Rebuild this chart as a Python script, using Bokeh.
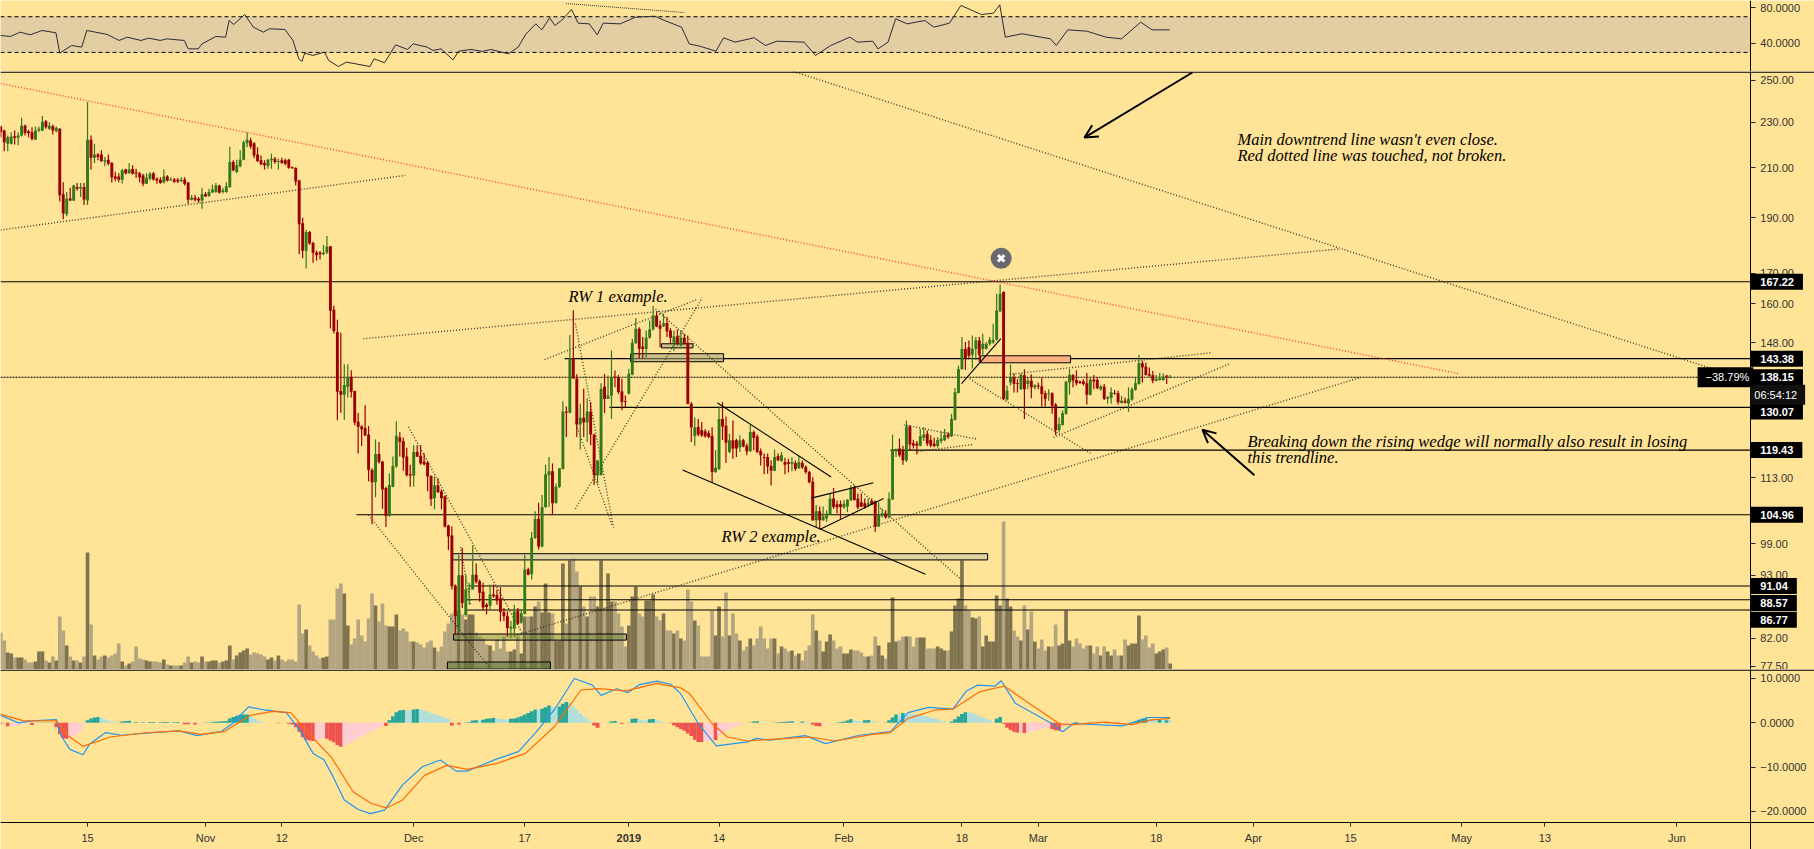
from bokeh.embed import file_html
from bokeh.resources import INLINE
from bokeh.plotting import figure
from bokeh.layouts import column
from bokeh.models import Range1d, FixedTicker, PrintfTickFormatter, Label, Arrow, OpenHead, ColumnDataSource, LinearAxis, LogAxis, LinearScale
from bokeh.core.properties import value
import pandas as pd

# 12-hour candles: (open, high, low, close)
oct_2018 = [(228.0,228.4,223.2,225.4),(226.2,226.5,217.0,221.0),(220.3,224.0,217.0,223.2),(220.3,225.4,220.0,223.5),(223.6,226.2,220.0,222.9),
(222.9,225.4,219.6,224.0),(224.0,232.0,223.5,228.4),(228.4,228.9,224.0,225.1),(225.9,226.5,223.2,225.0),(225.4,227.7,221.7,222.4),
(222.1,228.0,222.0,226.2),(226.2,228.0,225.4,227.0),(226.2,232.9,225.9,230.2),(230.4,231.0,227.0,227.7),(227.0,230.0,226.5,228.4),
(228.1,228.9,224.4,226.2),(225.9,228.0,225.4,227.4),(227.0,227.2,196.3,198.7),(199.1,204.0,189.4,191.6),(191.3,200.0,190.6,197.4),
(197.5,201.7,196.5,196.7),(196.7,203.0,196.5,202.7),(202.0,203.7,200.5,201.3),(201.4,203.7,198.0,202.0),(202.0,203.7,194.9,197.1),
(196.7,239.4,194.9,222.1),(222.1,224.0,209.2,214.2),(214.2,220.3,212.0,215.6),(215.6,216.2,213.1,214.5),(215.6,217.4,212.4,212.8),
(212.5,214.5,210.6,213.1),(213.4,215.6,211.0,211.7),(212.0,212.4,203.9,206.0),(206.3,208.3,204.4,205.4),(206.3,207.7,204.0,205.0),
(205.0,209.5,203.5,208.9),(209.2,209.5,207.2,207.7),(207.7,212.0,207.5,209.2),(209.4,211.0,207.2,207.5),(208.0,209.5,205.7,207.5),
(207.7,208.2,204.0,206.0),(206.7,207.5,202.4,203.4),(203.4,207.7,203.4,205.8),(205.4,208.2,204.7,207.5),(207.6,208.2,204.7,205.1),
(205.4,206.0,203.4,204.7),(205.0,206.0,203.4,203.7),(204.0,209.2,203.5,206.3),(206.3,206.8,204.3,204.7),(204.7,206.0,204.6,205.1),
(205.1,205.7,203.7,204.2),(205.0,205.7,203.7,204.3),(204.4,206.0,204.0,205.0),(205.1,206.0,202.7,203.4),(203.9,204.0,195.4,197.0),
(197.0,198.8,196.7,197.8),(197.8,198.8,196.3,197.0),(197.4,198.0,195.8,196.7),(196.7,201.7,193.5,199.1)]
nov_2018 = [(199.1,200.0,198.0,198.3),(198.4,201.3,198.0,200.0),(199.8,203.0,199.7,201.0),(200.0,203.7,199.7,202.7),(202.7,203.0,199.4,199.7),
(200.0,201.7,199.4,200.7),(200.0,204.0,199.7,202.3),(202.0,219.0,201.7,212.4),(212.4,213.1,208.5,208.9),(208.2,213.4,207.7,211.0),
(210.6,217.4,210.2,213.4),(213.4,221.7,213.1,221.0),(220.5,225.4,218.8,222.0),(221.7,222.9,218.1,219.1),(220.5,221.0,214.0,215.2),
(215.6,218.8,212.4,212.8),(213.1,215.2,211.0,211.4),(212.0,213.1,209.2,211.0),(210.7,213.8,209.5,213.4),(213.1,215.9,209.5,213.8),
(213.8,214.5,211.7,212.4),(212.4,213.8,209.2,212.8),(213.1,214.2,211.7,212.0),(213.1,213.8,211.0,211.7),(213.4,213.8,209.5,210.0),
(210.2,210.5,209.5,209.8),(209.9,210.2,202.7,204.3),(204.7,205.0,176.6,187.6),(187.9,190.0,175.2,177.9),(177.9,185.4,171.7,184.7),
(184.7,185.0,180.0,180.5),(180.7,181.1,173.7,177.2),(177.3,177.9,174.4,176.3),(177.3,177.8,174.8,176.6),(176.6,179.9,176.3,177.2),
(177.2,183.2,176.7,179.3),(179.5,179.5,152.3,157.8),(158.1,159.4,150.8,151.5),(151.2,155.0,126.8,134.2),(134.4,151.0,128.7,133.4),
(133.4,141.8,126.9,136.0),(135.5,141.8,132.7,138.0),(138.2,140.1,132.7,134.2),(134.4,134.5,125.5,126.2),(126.4,128.6,118.6,125.1),
(125.2,125.5,120.4,124.5),(124.8,130.6,122.8,123.0),(123.2,125.3,112.2,114.8),(114.8,115.2,103.0,112.0),(112.0,122.0,108.7,118.5),
(118.5,121.4,116.3,116.6),(116.7,116.9,106.2,110.4),(110.7,111.0,102.4,104.7),(104.7,114.0,104.5,111.4),(111.0,117.9,110.9,115.7),
(115.6,126.5,115.3,122.9),(122.5,123.8,117.9,121.4),(121.6,122.5,114.6,117.7),(117.9,120.0,113.3,113.6),(113.8,116.0,111.0,113.5)]
dec_2018 = [(113.5,120.6,111.0,119.0),(119.0,120.6,117.8,117.9),(118.1,120.6,116.0,116.3),(116.7,118.7,115.8,116.1),(116.5,116.9,110.0,113.3),
(113.4,113.6,106.8,108.3),(108.5,113.3,106.1,111.3),(111.3,112.9,109.6,109.8),(110.0,110.4,106.1,108.5),(108.9,109.1,102.3,102.5),
(102.7,102.9,97.8,100.5),(100.7,102.5,90.4,91.0),(91.1,91.3,82.6,85.7),(83.7,96.9,82.9,93.0),(93.0,98.2,87.1,88.0),
(85.9,93.1,85.6,90.4),(90.4,91.6,87.7,90.6),(90.4,98.7,90.4,93.1),(93.1,95.2,91.5,91.8),(91.9,92.2,88.2,89.8),
(90.0,91.6,86.7,87.2),(87.7,88.0,86.0,87.3),(87.5,91.3,86.7,89.5),(89.5,91.3,88.9,89.2),(89.4,90.4,87.7,88.4),
(88.8,90.8,84.8,86.4),(86.4,87.1,84.9,85.7),(85.7,86.5,82.3,83.7),(83.6,84.9,82.1,83.9),(83.6,87.7,82.3,86.5),
(86.6,87.1,84.2,84.4),(84.6,86.8,84.4,86.2),(86.1,96.9,86.0,94.1),(94.1,94.4,93.0,93.1),(93.2,101.4,92.2,100.2),
(100.2,105.7,100.0,104.1),(104.1,107.5,97.9,98.5),(98.5,109.2,98.3,106.6),(106.6,116.0,106.4,113.8),(113.6,117.8,106.6,114.5),
(114.5,116.3,105.0,107.4),(107.4,111.7,107.4,111.0),(111.0,115.2,110.7,115.2),(115.0,131.7,114.9,129.0),(129.0,130.4,122.6,128.7),
(128.7,150.3,128.5,143.4),(143.4,157.9,137.8,137.8),(137.8,139.0,122.6,125.7),(125.7,131.0,119.6,127.4),(127.4,135.0,122.6,126.2),
(126.2,132.4,121.4,129.0),(129.0,131.5,120.6,123.2),(123.2,123.4,111.4,113.6),(113.6,117.0,111.8,117.0),(113.6,136.5,113.5,135.0),
(135.6,139.1,128.6,132.3),(132.3,138.6,132.3,133.2),(133.2,145.7,127.1,138.1),(138.3,140.0,135.4,138.1),(138.1,138.8,133.6,134.1),
(134.3,137.7,129.3,131.5),(131.7,133.2,130.2,131.5)]
jan_2019 = [(133.7,140.5,133.5,139.1),(138.9,149.1,138.7,148.0),(147.9,155.5,147.7,152.2),(152.2,152.7,143.5,146.2),(146.9,149.7,143.5,146.2),
(146.2,151.7,143.7,149.5),(149.5,154.7,149.2,152.0),(152.0,159.4,151.7,156.3),(156.3,157.6,152.7,152.9),(153.2,154.7,146.7,152.2),
(153.0,156.8,152.7,153.9),(154.0,155.8,149.7,151.4),(151.7,152.4,147.7,149.5),(148.0,151.7,145.5,149.9),(149.9,151.9,147.2,147.7),
(147.2,151.7,146.9,149.5),(149.5,150.7,147.5,147.7),(148.0,150.2,130.9,131.0),(131.0,131.5,121.4,125.0),(122.8,127.5,120.5,125.0),
(125.1,127.1,122.8,123.2),(124.3,126.3,122.6,123.0),(124.0,124.6,122.4,122.8),(123.6,124.2,122.3,122.6),(122.9,125.0,112.0,114.3),
(114.3,119.4,114.1,115.3),(115.0,130.3,114.8,127.1),(127.1,131.5,121.9,125.2),(125.4,127.7,116.4,121.2),(119.0,123.4,118.7,121.8),
(121.8,126.7,117.4,119.8),(121.8,122.2,117.8,119.8),(120.1,123.0,119.0,121.8),(121.8,122.2,120.1,120.3),(120.5,121.0,118.2,119.1),
(119.2,125.6,119.0,123.8),(123.8,124.2,119.4,122.4),(122.7,123.2,118.7,119.0),(119.2,119.8,115.8,118.2),(117.8,118.6,113.8,117.6),
(117.8,118.6,113.9,115.6),(115.7,117.0,111.3,114.6),(114.6,119.6,114.5,117.8),(118.0,118.7,116.8,117.0),(116.9,119.0,116.6,118.2),
(116.6,117.6,113.8,116.0),(116.6,117.4,114.2,116.2),(116.2,117.8,114.5,116.6),(116.4,117.0,114.6,115.0),(115.2,118.0,115.0,116.6),
(116.4,117.0,115.0,115.4),(115.5,115.8,113.9,114.3),(114.3,114.6,111.8,112.0),(112.1,113.1,103.7,103.8),(103.8,107.0,102.4,105.7),
(105.7,106.7,102.1,103.8),(103.8,106.7,103.7,104.6),(104.2,105.9,103.5,105.2),(105.0,109.5,104.9,108.4),(108.4,110.7,106.2,106.6),
(107.2,108.0,105.2,106.5),(107.2,108.0,104.1,106.6)]
feb_2019 = [(106.5,108.1,106.2,107.3),(106.7,108.3,105.5,108.1),(108.0,111.3,107.9,110.8),(110.8,111.3,108.0,108.1),(108.4,109.5,106.1,106.5),
(107.6,109.5,106.6,106.7),(107.4,108.4,106.2,106.6),(107.0,108.4,106.6,107.4),(107.9,108.4,107.0,107.2),(107.8,108.0,101.4,102.5),
(102.5,107.6,102.4,104.9),(104.7,106.2,104.4,105.3),(105.2,105.9,104.2,104.4),(104.4,109.8,104.2,108.4),(108.2,123.2,108.1,119.4),
(119.1,119.8,117.8,119.6),(119.8,122.2,117.8,118.2),(119.4,120.5,116.0,117.0),(117.0,126.7,116.6,125.2),(125.2,125.6,119.4,120.8),
(121.1,121.9,119.8,120.5),(121.0,121.6,118.4,120.5),(120.5,124.6,120.3,122.8),(122.4,125.0,121.6,123.2),(123.4,124.2,120.4,121.0),
(121.9,123.0,120.1,120.5),(121.0,122.4,120.1,120.4),(120.4,122.6,120.0,121.9),(121.6,124.0,121.0,122.2),(121.8,124.6,121.6,123.1),
(123.2,123.8,122.2,122.6),(122.8,128.4,122.6,127.1),(126.9,135.2,126.7,134.1),(133.9,141.4,133.7,140.4),(140.4,149.7,140.2,146.2),
(146.2,148.2,140.2,143.5),(146.7,148.7,143.2,144.2),(144.5,150.2,140.6,146.2),(146.2,149.7,143.0,148.7),(148.7,149.7,142.4,144.5),
(146.2,150.7,144.2,147.7),(146.2,148.2,146.0,147.7),(147.7,149.7,147.2,148.9),(148.1,153.7,147.7,148.9),(148.9,163.2,148.7,157.8),
(157.6,166.3,157.3,163.2),(163.8,164.0,132.0,132.3),(132.1,135.9,131.8,134.5),(136.7,141.7,135.9,138.1),(138.1,139.2,134.0,136.3),
(136.5,137.6,134.0,136.3),(134.9,139.2,134.7,138.9),(138.7,140.4,127.1,134.9),(136.3,138.1,134.9,137.2),(137.2,139.0,132.5,135.4),
(135.4,136.3,134.9,135.9)]
mar_2019 = [(135.9,136.7,134.9,135.6),(135.7,138.1,130.4,133.6),(133.8,134.5,130.3,132.3),(133.6,134.9,131.8,133.8),(133.8,134.1,128.4,130.5),
(130.8,131.2,123.0,124.3),(124.3,127.5,123.7,125.8),(125.6,129.3,125.4,128.6),(128.4,137.2,128.2,136.9),(136.7,140.4,133.4,138.8),
(138.8,139.0,135.4,137.2),(137.4,140.1,135.9,136.5),(137.0,137.2,136.3,136.6),(137.0,137.6,135.9,136.3),(136.5,139.3,130.8,133.4),
(133.4,138.1,133.2,137.5),(137.5,138.8,134.9,137.0),(137.4,138.1,134.9,135.2),(134.9,136.1,134.5,135.6),(135.6,136.3,132.0,132.3),
(132.3,133.1,131.0,132.7),(132.5,135.4,131.0,134.1),(133.8,134.7,133.4,133.6),(133.8,134.5,130.8,131.4),(131.2,133.1,131.1,131.8),
(131.8,132.7,131.1,131.3),(131.1,135.4,128.9,132.3),(132.1,135.4,131.8,134.9),(134.7,138.1,134.5,136.5),(136.3,144.5,136.1,142.1),
(142.1,142.8,136.7,140.9),(141.1,142.3,138.6,138.8),(139.0,140.9,138.3,138.6),(138.7,139.9,136.5,137.2),(137.2,138.8,137.0,137.7),
(137.4,139.3,137.2,137.9),(137.4,139.2,137.2,138.3),(138.6,138.8,136.3,138.3),(138.0,138.8,137.9,138.15)]

volumes = [37,29,17,16,12,12,12,10,7,7,8,18,18,9,7,13,9,53,39,24,13,9,9,7,13,117,45,14,10,13,14,12,14,16,26,8,4,6,8,23,11,10,9,8,8,8,7,10,5,4,4,4,4,7,13,7,8,7,13,8,
8,9,9,7,8,9,24,10,14,17,19,21,15,17,16,15,13,10,12,9,14,10,8,10,10,8,65,36,40,24,18,14,11,12,13,50,50,81,86,76,44,25,31,50,34,28,51,76,64,48,66,44,43,43,55,39,41,38,28,
28,27,25,22,27,29,22,18,23,38,46,56,59,59,55,50,55,55,37,33,31,25,24,19,30,21,33,18,18,20,33,16,53,53,53,63,68,57,86,57,56,29,29,106,46,109,111,98,83,63,53,73,73,63,109,
62,96,68,68,56,43,23,44,73,83,56,53,69,69,75,53,49,56,39,39,36,39,31,29,80,68,49,44,13,13,13,59,34,63,33,77,34,56,36,29,19,23,31,24,31,43,31,21,31,31,16,23,21,18,19,14,16,9,19,24,55,39,29,18,28,35,29,21,23,
16,16,20,19,19,17,13,13,14,33,24,14,11,27,72,28,29,33,33,33,23,32,32,32,21,21,21,23,21,19,19,38,64,71,109,64,59,52,51,53,23,34,28,28,74,64,148,71,63,39,33,29,64,40,58,28,
21,30,19,23,23,45,24,26,59,29,23,31,26,21,24,24,16,23,14,23,18,14,20,14,14,30,24,26,26,54,30,34,22,26,16,18,20,22,6]

rsi_bars = [.9,3.8,6.6,9.5,12.9,16.9,18,21.4,24.3,25.8,31.7,35.1,37.4,41.4,43.6,47,48.8,53.9,55,57.9,59,63,65.8,66.8,68.1,71.3,73.8,76.7,78.4,82.9,85.2,86.9,87.8,88.6,90.9,94.3,95.5,98.3,100.6,107.4,108.6,111.6,114.8,118.2,119.9,123.9,125.6,127.9,131.3,133,136.5,139.9,142.2,147.3,150.1,152.4,155.2,156.9,159.2,160.7,162.6,165.5,167.4,170.6,172.9,174.6,179.5,183.9,189.5,192.8,197.2,199.4,202.7,207.1,209.3,212.6,218.1,221.4,224.7,232.5,235.8,240.2,245.7,247.9,252.3,253.8,256.7,258.9,262.2,267.3,269.9,274.4,277.7,281,283.6,287.1,288.9,290.5,295.3,303.5,305.2,308.5,314,319.5,324,329.5,332.8,337.9]
rsi_vals = [49,47.9,52.7,49.7,54.6,52,29.2,37.8,35.9,54.6,50.1,43.4,47.1,43.4,46,43.4,45.2,43.4,34,34,39.6,47.9,47.1,65.8,61.3,72.5,58.3,52.7,56.5,55.7,43.4,22.8,19.9,29.2,26.6,30.3,21,14.2,19.1,14.2,22.8,18.4,38.5,33.3,39.6,35.9,32.2,34,21.7,31.4,33.3,31.1,33.3,28.4,35.9,50.9,62,55.3,68.8,60.2,65.8,78.1,62.8,62,49.7,62.8,62,69.5,70.6,65,58.3,39.6,36.7,31.4,46.4,41.5,46.4,37.8,42.6,41.5,26.6,37.8,47.1,41.5,42.6,34,41.5,67.7,62,65.8,58.3,62.8,82.6,77,72.5,74,83.3,47.1,50.9,45.2,37.8,55.3,53.8,47.1,45.2,63.9,55.3,55.3]

macd_bars = [.9,6.1,9.9,17,18.3,20.9,24.7,26.7,31.2,35.7,44.7,52.4,57.6,64.6,67.8,72.4,76.9,83.3,87.2,91,94.2,96.8,100,103.9,107.5,111.6,116.8,122.5,127.7,132.2,135.4,143.8,150.2,155.4,160.5,166.3,171.5,174,178.5,181.7,185,190.1,194,196.9,202,207.2,216.2,218.8,222.6,232.9,238.7,248.4,257.4,262.5,268.4,275.4,279.3,282.5,287.6,289.3,293.4,303.8,307,310.2,324.3,329.5,331.4,338]
macd_vals = [1.7,0,.45,.75,-2.8,-6,-7.2,-4.7,-2.2,-2.8,-2.2,-1.8,-2.9,-1.9,-.15,3.6,2.9,2.3,-1.7,-6.9,-8.4,-12.2,-17.4,-19.5,-20.5,-19.7,-14,-9.9,-8.4,-10.9,-10.9,-8.2,-6.5,-2,2.9,10,8.5,6.2,7.7,6.8,8.6,9.4,8.7,6.6,-.15,-5.2,-4.3,-3.5,-3.9,-2.9,-4.7,-2.8,-2,2.3,3.5,3.1,7.2,8.5,8.3,9.5,4.4,-.15,-2,-.15,-.7,.6,1.2,1.2]
signal_bars = [.9,7.4,17,20.2,24.7,32.5,42.1,52.4,58.8,65.3,73,79.4,84.6,89.7,96.2,102.6,107.8,112.2,116.8,123.2,129.6,135.4,143.8,152.2,160.5,168.2,173.4,181.1,190.1,196.9,199.5,206,210.4,216.2,225.2,234.2,241.3,252.2,257.4,262.5,270.3,275.4,283.1,290.2,297.3,306.3,310.2,319.2,327,332.1,338]
signal_vals = [1.9,.5,.45,-2.8,-5.3,-3.2,-2.3,-1.8,-2.6,-2,1.7,2.6,2.3,-2.4,-7.7,-15.6,-18.2,-19.2,-17.4,-11.8,-9.6,-10.5,-9.2,-6.9,-.9,7.4,7.7,7.2,8.9,7.9,6.6,-.15,-3.2,-4.1,-3.6,-3.2,-4.1,-2.6,-2.2,1,2.9,3.1,7,8.3,4.4,-.3,-.4,.15,-.4,.6,1]
macd_hist = [-.2,-.2,-.8,-.8,-.8,-.6,-.4,-.2,-.1,-.5,-.1,.1,.1,.1,.1,.1,-1,-2.5,-3.5,-3.6,-3.6,-3,-2.5,-2,-.2,.6,1,1.2,1.3,1.2,.8,.5,.3,.1,.1,.3,.4,.45,.2,.2,.1,.15,.1,.2,.2,.1,.15,.2,.2,.1,.15,.2,.1,-.3,-.35,-.35,-.4,-.2,-.05,
.05,.1,.2,.25,.3,.35,.4,1,1.3,1.6,1.8,1.85,1.9,1.5,1,.5,.3,.1,.05,.02,0,-.1,-.1,-.1,-.2,-.4,-1,-2,-3.2,-3.8,-4,-4.1,-4,-3.7,-3.5,-3.6,-4,-4.4,-5,-5.4,-5.2,-4.8,-4.4,-4,-3.5,-3.1,-2.7,-2.2,-1.8,-1.5,-1,-.6,-.7,.6,1.5,2.4,2.8,2.9,2.85,2.8,
3,3.1,3,2.8,2.6,2.2,2,1.7,1.4,1.1,.9,-.6,-.05,-.4,-.1,.05,.2,.5,.6,.55,.7,.9,1,1.1,1,.9,.8,.7,.9,1,1.2,1.5,1.9,2.2,2.6,3,2.95,3.2,3.5,3.9,3.6,3.3,3.7,4.3,4.7,4.65,3.7,2.9,2.2,1.5,.9,.4,-.6,-1.1,-.1,0,.1,.3,.4,.1,-.2,-.15,
.05,.9,1,.7,.6,.55,.8,.85,.6,.4,.2,.05,-.1,-.6,-1,-1.4,-1.8,-2.4,-3,-3.8,-4.3,-4.35,-4.2,-4,-3.8,-3.9,-3,-2.5,-2,-1.5,-1,-.7,-.4,-.2,.02,.05,.3,.35,.1,.08,.05,.03,.1,.15,.2,.25,.3,.35,.2,.15,.3,.2,.1,-.4,-.7,-.75,-.4,-.2,-.1,.02,.05,
.2,.3,.5,.8,.5,.4,.3,.6,.65,.4,.2,.1,.05,.1,.6,1.2,1.9,1.85,2.2,2.15,2.1,2,1.9,1.8,1.6,1.4,1.2,1,.8,.5,.3,.1,.3,.8,1.4,2,2.4,2.35,2.2,1.9,1.5,1.2,.9,.6,.1,.9,1.3,-.2,-1.1,-1.6,-2,-2.2,-2.15,-2.3,-2.2,-2,-1.8,
-1.6,-1.4,-1.2,-1,-1.4,-1.7,-1.8,-.8,-.5,-.1,.1,.2,.15,.1,.1,.1,.05,.1,.05,.02,-.1,-.1,-.1,-.2,-.1,-.05,.02,.05,.3,.7,.9,1,.9,.8,.7,.7,.6,.6,.5]

price_ticks = [250, 230, 210, 190, 170, 160, 148, 113, 99, 93, 82, 77.5]
rsi_ticks = [80, 40]
macd_ticks = [10, 0, -10, -20]
time_ticks = ["2018-10-15","2018-11-01","2018-11-12","2018-12-01","2018-12-17","2019-01-01","2019-01-14","2019-02-01","2019-02-18","2019-03-01","2019-03-18","2019-04-01","2019-04-15","2019-05-01","2019-05-13","2019-06-01"]
time_labels = ["15","Nov","12","Dec","17","","14","Feb","18","Mar","18","Apr","15","May","13","Jun"]

# drawn levels: price, first bar
levels = [(167.22,.9),(143.38,163.5),(130.07,176.4),(119.43,257.4),(104.96,103.5),(91.04,135.8),(88.57,135.2),(86.77,135.2)]
last_price = 138.15
# drawn trendlines: bar, price, bar, price
dotted_lines = [(.9,185.4,117.6,206.8),(229.5,254.5,494.3,140.5),(105.5,149.2,386.8,178.5),(149,82.4,392.6,138),(118.5,125.1,151.4,82.7),(107,104.9,141.9,77.3),
(133.5,98.4,136.4,87.8),(189.7,158.3,277.6,92.3),(157.7,143.1,201.5,161.3),(166.6,106.2,203.2,162),(166.6,153.8,177.6,102.3),(166.6,126.3,177.3,102.5),
(261.4,125.6,282.2,122.1),(265.2,119.1,281.3,120.8),(280.2,137.7,315,118.7),(291.7,139,350.2,145.1),(304.4,122.5,355.1,141.9)]
red_line = (.9,248.5,421.4,139.1)
solid_lines = [(207.5,131.3,240.3,113.2),(197.5,114.8,267.5,93.2),(234.6,108.5,252.5,111.9),(237,101.9,255.4,108.4),(277.9,136.4,289.2,149.2)]
# boxes: left bar, right bar, top price, bottom price, colour, alpha
boxes = [(131.2,285.4,97.1,95.9,"#C8C8A8",.55),(131.5,181.3,82.7,81.7,"#6E8A3C",.45),(129.7,159.4,78.2,77.1,"#5E7A3C",.55),(182.5,209.3,144.8,142.5,"#A8A07A",.55),(191.4,200.5,147.7,146.5,"#A8A07A",.55),(283.3,309.3,144.2,142.2,"#FFB080",1)]
arrows = [(362.3,113.6,347.3,124.4),(344.4,254.0,313.3,223.0)]
notes = [("RW 1 example.",164.6,162.4),("RW 2 example.",208.7,100.4),("Main downtrend line wasn't even close.",357.4,222.2),("Red dotted line was touched, not broken.",357.4,215.2),
("Breaking down the rising wedge will normally also result in losing",360.3,121.5),("this trendline.",360.3,117.6)]
# price tags: text, price the tag stands at
tags = [("167.22",167.22),("143.38",143.38),("138.15",138.15),("130.07",129.0),("119.43",119.43),("104.96",104.96),("91.04",91.04),("88.57",88.0),("86.77",85.1)]

BG = "#FFE396"
X0, X1, XFAR = .92, 505.2, 523.7
UP, DOWN = "#33791A", "#990000"
VOL_UP, VOL_DOWN = "#80734F", "#B3A57F"
AXIS_TXT = "#333333"

candles = oct_2018 + nov_2018 + dec_2018 + jan_2019 + feb_2019 + mar_2019
bars = list(range(1, len(candles) + 1))
opens = [c[0] for c in candles]; highs = [c[1] for c in candles]; lows = [c[2] for c in candles]; closes = [c[3] for c in candles]
is_up = [c >= o for o, c in zip(opens, closes)]
source = ColumnDataSource(dict(
    x=bars, high=highs, low=lows,
    top=[max(o, c) for o, c in zip(opens, closes)], bottom=[min(o, c) for o, c in zip(opens, closes)],
    color=[UP if u else DOWN for u in is_up],
    vol=(volumes + [0] * len(bars))[:len(bars)], vcolor=[VOL_UP if u else VOL_DOWN for u in is_up],
))

tick_bars = [2 * (pd.Timestamp(t) - pd.Timestamp("2018-10-02")).days for t in time_ticks]


def style_axis(ax):
    ax.axis_line_color = "black"
    ax.major_tick_line_color = "#222222"
    ax.major_tick_out = 5
    ax.major_tick_in = 0
    ax.minor_tick_line_color = None
    ax.major_label_standoff = 5
    ax.major_label_text_font = "Liberation Sans"
    ax.major_label_text_font_size = "11px"
    ax.major_label_text_color = AXIS_TXT


def make_fig(height, y_range, y_axis_type="linear", axis_cls=LinearAxis, ticks=None, formatter=None):
    f = figure(width=1814, height=height, x_range=Range1d(X0, XFAR), y_range=y_range, y_axis_type=y_axis_type,
               y_axis_location=None, x_axis_location=None,
               output_backend="svg", toolbar_location=None, background_fill_color=BG, border_fill_color=BG,
               min_border_left=0, min_border_right=0, min_border_top=0, min_border_bottom=0)
    f.grid.visible = False
    f.outline_line_color = None
    ax = axis_cls(fixed_location=X1, ticker=FixedTicker(ticks=ticks))
    if formatter:
        ax.formatter = formatter
    style_axis(ax)
    f.add_layout(ax, "right")
    return f, ax


# ---- RSI ----
rsi, rsi_ax = make_fig(71, Range1d(8.6, 88.2), ticks=rsi_ticks, formatter=PrintfTickFormatter(format="%.4f"))
rsi.quad(left=[X0], right=[X1], top=[70], bottom=[30], fill_color="#E3CDA3", line_color=None)
rsi.line([X0, X1], [70, 70], line_color="black", line_dash="4 3", line_width=1)
rsi.line([X0, X1], [30, 30], line_color="black", line_dash="4 3", line_width=1)
rsi.line(rsi_bars, rsi_vals, line_color="#2a2a3a", line_width=1)
rsi.line([163.9, 198], [84.8, 74.7], line_color="#333333", line_dash="1 1", line_width=1)

# ---- Price ----
price, price_ax = make_fig(598, Range1d(77.04, 254.5), y_axis_type="log", axis_cls=LogAxis, ticks=price_ticks, formatter=PrintfTickFormatter(format="%.2f"))
price.extra_y_ranges = {"vol": Range1d(0, 598)}
price.extra_y_scales = {"vol": LinearScale()}
price.vbar(x="x", width=1.06, top="vol", bottom=0, fill_color="vcolor", line_color=None, source=source, y_range_name="vol")
for l, r, t, b, col, alpha in boxes[:3]:
    price.quad(left=[l], right=[r], top=[t], bottom=[b], fill_color=col, fill_alpha=alpha, line_color="black", line_width=1)
for lv, start in levels:
    price.line([start, X1], [lv, lv], line_color="black", line_width=1.1)
price.line([X0, 490], [last_price, last_price], line_color="black", line_dash="2 1", line_width=1.1)
for l, r, t, b, col, alpha in boxes[3:]:
    price.quad(left=[l], right=[r], top=[t], bottom=[b], fill_color=col, fill_alpha=alpha, line_color="black", line_width=1)
for x1, y1, x2, y2 in dotted_lines:
    price.line([x1, x2], [y1, y2], line_color="#2a2a20", line_alpha=.9, line_dash="1 2", line_width=1.4)
price.line([red_line[0], red_line[2]], [red_line[1], red_line[3]], line_color="#FF3A3A", line_dash="1 2", line_width=1.4)
price.segment(x0="x", x1="x", y0="low", y1="high", line_color="color", line_width=1.2, source=source)
price.vbar(x="x", width=.84, top="top", bottom="bottom", fill_color="color", line_color=None, source=source)
for x1, y1, x2, y2 in solid_lines:
    price.line([x1, x2], [y1, y2], line_color="black", line_width=1.1)
for x1, y1, x2, y2 in arrows:
    price.add_layout(Arrow(end=OpenHead(size=13, line_width=2, line_color="black"), x_start=x1, y_start=y1, x_end=x2, y_end=y2, line_color="black", line_width=2))
for txt, bx, py in notes:
    price.text([bx], [py], text=[txt], text_font=value("Liberation Serif"), text_font_style="italic", text_font_size="16.5px",
               text_color="#000000", text_align="left", text_baseline="middle")
price.scatter([289.3], [175.2], marker="circle", size=21, fill_color="#69696E", line_color=None)
price.scatter([289.3], [175.2], marker="x", size=9, line_color="white", line_width=3)
price.line([X0, XFAR], [254.2, 254.2], line_color="black", line_width=1.1)


def tag(f, text, y, bar=X1, fill="black", color="white", bold=True, pad=(10, 9, 4, 4)):
    f.add_layout(Label(x=bar, y=y, text=text, text_color=color, text_font="Liberation Sans",
                       text_font_style="bold" if bold else "normal", text_font_size="11px", text_baseline="middle",
                       background_fill_color=fill, padding=pad, level="overlay"))


for t, py in tags:
    tag(price, t, py)
tag(price, "06:54:12", 133.4, fill="#111111", bold=False, pad=(4, 8, 4, 4))
tag(price, "−38.79%", last_price, bar=490, bold=False, pad=(8, 4, 4, 4))
for t, py in tags:
    price.line([X1, X1 + 1.44], [py, py], line_color="white", line_width=1, level="overlay")

# ---- MACD ----
macd, macd_ax = make_fig(180, Range1d(-28.58, 12.03), ticks=macd_ticks)
macd_ax.major_label_overrides = {10: "10.0000", 0: "0.0000", -10: "−10.0000", -20: "−20.0000"}
hist_colors = []
for i, h in enumerate(macd_hist):
    prev = macd_hist[i - 1] if i else 0
    if h >= 0:
        hist_colors.append("#26A69A" if h >= prev else "#B2DFDB")
    else:
        hist_colors.append("#EF5350" if h < prev else "#FFCDD2")
macd.vbar(x=list(range(1, len(macd_hist) + 1)), width=1.06, top=macd_hist, bottom=0, fill_color=hist_colors, line_color=None)
macd.line(macd_bars, macd_vals, line_color="#2196F3", line_width=1.2)
macd.line(signal_bars, signal_vals, line_color="#FF6D00", line_width=1.2)
macd.line([X0, XFAR], [11.9, 11.9], line_color="black", line_width=1.1)
xax = LinearAxis(fixed_location=-22.5, ticker=FixedTicker(ticks=tick_bars))
style_axis(xax)
xax.major_tick_out = 4
xax.major_label_overrides = dict(zip(tick_bars, time_labels))
macd.add_layout(xax, "below")
macd.add_layout(Label(x=tick_bars[5], y=-25.9, text="2019", text_align="center", text_baseline="middle", text_font="Liberation Sans",
                      text_font_style="bold", text_font_size="11px", text_color=AXIS_TXT, level="overlay"))

p = column(rsi, price, macd, spacing=0)
open("out.html", "w").write(file_html(p, INLINE))
